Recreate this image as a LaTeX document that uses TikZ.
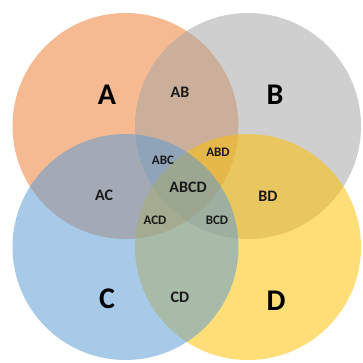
\documentclass[tikz,border=0pt]{standalone}
\usepackage{fontspec}
\setmainfont{Carlito}
\definecolor{cA}{HTML}{ED7D31}
\definecolor{cB}{HTML}{A5A5A5}
\definecolor{cC}{HTML}{5B9BD5}
\definecolor{cD}{HTML}{FFC000}
\tikzset{
  setcircle/.style={circle, minimum size=226pt, inner sep=0pt, fill opacity=0.53, draw=none},
  biglabel/.style={font=\fontsize{30}{30}\selectfont\bfseries, text=black},
  midlabel/.style={font=\fontsize{16}{16}\selectfont\bfseries, text=black!90},
  smalllabel/.style={font=\fontsize{13}{13}\selectfont\bfseries, text=black!90},
}
\begin{document}
\begin{tikzpicture}[x=1pt,y=-1pt]
\useasboundingbox (0,0) rectangle (362,363);
\node[setcircle, fill=cA] (cirA) at (125.5,126) {};
\node[setcircle, fill=cB] (cirB) at (248,126) {};
\node[setcircle, fill=cD] (cirD) at (248,247) {};
\node[setcircle, fill=cC] (cirC) at (125.5,247) {};
\node[biglabel] (lA) at (107,95) {A};
\node[biglabel] (lB) at (275,95) {B};
\node[biglabel] (lC) at (107,299) {C};
\node[biglabel] (lD) at (276,301) {D};
\node[midlabel] (lAB) at (180,92) {AB};
\node[midlabel] (lAC) at (104,195) {AC};
\node[midlabel] (lBD) at (268,196) {BD};
\node[midlabel] (lCD) at (180,297) {CD};
\node[midlabel] (lABCD) at (188,187) {ABCD};
\node[smalllabel] (lABC) at (163,160) {ABC};
\node[smalllabel] (lABD) at (218,152) {ABD};
\node[smalllabel] (lACD) at (155,220) {ACD};
\node[smalllabel] (lBCD) at (217,220) {BCD};
\end{tikzpicture}
\end{document}
